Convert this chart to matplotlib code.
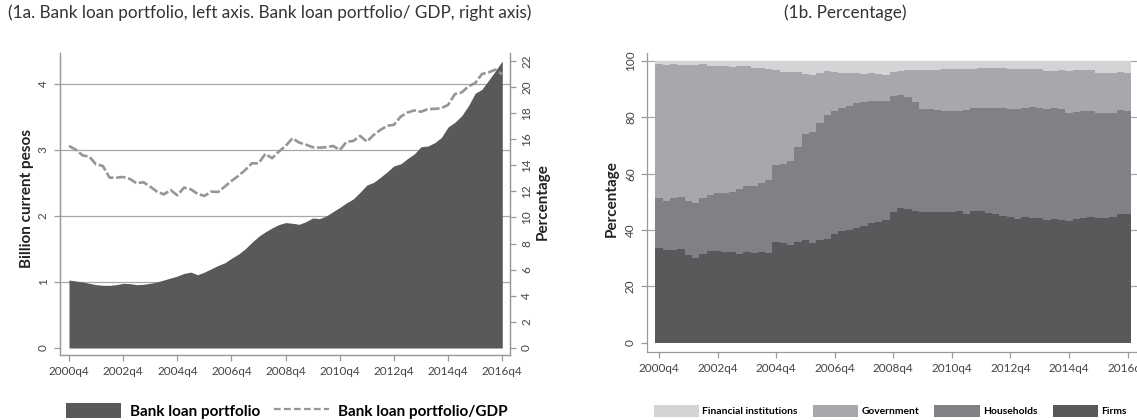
import numpy as np
import matplotlib
matplotlib.use("Agg")
import matplotlib.pyplot as plt
from matplotlib.patches import Patch
from matplotlib.lines import Line2D

plt.rcParams['font.family'] = ['Lato', 'DejaVu Sans']

# quarterly series, 2000q4 .. 2016q4
years = list(range(2000, 2017))
quarter_labels = [f"{y}q4" for y in years[::2]]

# bank loan portfolio (billion current pesos)
loans = [1.03, 1.015, 1.0, 0.98, 0.96, 0.95, 0.95, 0.96, 0.98, 0.975,
         0.96, 0.965, 0.98, 1.0, 1.03, 1.06, 1.09, 1.13, 1.15, 1.11,
         1.15, 1.2, 1.25, 1.29, 1.36, 1.42, 1.50, 1.60, 1.69, 1.76,
         1.82, 1.87, 1.90, 1.89, 1.874, 1.915, 1.97, 1.96, 2.0, 2.066,
         2.13, 2.2, 2.26, 2.36, 2.47, 2.51, 2.586, 2.67, 2.76, 2.79,
         2.87, 2.94, 3.05, 3.06, 3.11, 3.19, 3.35, 3.42, 3.52, 3.67,
         3.86, 3.92, 4.06, 4.2, 4.35]

# bank loan portfolio / GDP (percent)
loans_gdp = [15.48, 15.2, 14.76, 14.66, 14.07, 13.95, 13.05, 13.05, 13.1, 12.95,
             12.62, 12.7, 12.36, 11.98, 11.77, 12.1, 11.7, 12.29, 12.16, 11.8,
             11.65, 11.98, 11.95, 12.36, 12.8, 13.18, 13.62, 14.15, 14.15, 14.87,
             14.54, 15.05, 15.48, 16.07, 15.74, 15.58, 15.38, 15.35, 15.38, 15.48,
             15.17, 15.79, 15.86, 16.25, 15.81, 16.32, 16.71, 17.02, 17.1, 17.73,
             18.04, 18.2, 18.1, 18.3, 18.32, 18.37, 18.63, 19.45, 19.58, 20.04,
             20.3, 20.99, 21.12, 21.33, 20.97]

# portfolio composition (percent)
firms = [33.6, 32.8, 33.0, 33.3, 31.1, 30.2, 31.4, 32.4, 32.6, 32.2,
         32.2, 31.6, 32.2, 31.9, 32.2, 31.9, 35.8, 35.3, 34.7, 35.9,
         36.5, 35.5, 36.5, 37.0, 38.6, 39.7, 39.9, 40.9, 41.3, 42.4,
         42.7, 43.6, 46.5, 47.8, 47.5, 46.8, 46.4, 46.4, 46.4, 46.4,
         46.4, 46.8, 45.7, 46.8, 46.8, 46.1, 45.7, 45.0, 44.6, 43.9,
         44.6, 44.3, 44.3, 43.6, 43.9, 43.6, 43.2, 43.9, 44.3, 44.6,
         44.3, 44.3, 44.6, 45.7, 45.7]
households = [17.8, 17.5, 18.3, 18.4, 19.3, 19.4, 20.0, 19.9, 20.5, 20.9,
              21.4, 22.9, 23.3, 23.6, 24.6, 25.8, 27.2, 28.1, 29.7, 33.5,
              37.5, 39.3, 41.4, 43.9, 43.7, 43.5, 44.2, 44.1, 44.1, 43.3,
              43.1, 42.2, 41.0, 40.2, 39.8, 38.7, 36.6, 36.5, 36.3, 35.9,
              35.9, 35.5, 37.0, 36.4, 36.4, 37.1, 37.5, 38.2, 38.3, 39.0,
              38.8, 39.4, 39.1, 39.4, 39.3, 39.3, 38.4, 38.0, 38.0, 37.7,
              37.3, 37.3, 37.0, 37.0, 36.6]
government = [47.7, 48.5, 47.7, 47.1, 48.4, 49.2, 47.6, 46.1, 45.2, 45.0,
              44.2, 43.6, 42.6, 42.2, 40.8, 39.6, 33.9, 32.8, 31.8, 26.6,
              21.3, 20.2, 17.8, 15.5, 13.9, 12.5, 11.6, 10.7, 10.1, 10.0,
              9.7, 9.4, 8.8, 8.5, 9.4, 11.2, 13.7, 13.8, 14.0, 14.8,
              14.8, 14.8, 14.5, 14.0, 14.4, 14.4, 14.4, 14.4, 14.3, 14.3,
              13.8, 13.5, 13.8, 13.5, 13.3, 14.0, 14.9, 15.0, 14.6, 14.6,
              14.2, 14.2, 14.2, 13.5, 13.5]
financial = [0.9, 1.2, 1.0, 1.2, 1.2, 1.2, 1.0, 1.6, 1.7, 1.9,
             2.2, 1.9, 1.9, 2.3, 2.4, 2.7, 3.1, 3.8, 3.8, 4.0,
             4.7, 5.0, 4.3, 3.6, 3.8, 4.3, 4.3, 4.3, 4.5, 4.3,
             4.5, 4.8, 3.7, 3.5, 3.3, 3.3, 3.3, 3.3, 3.3, 2.9,
             2.9, 2.9, 2.8, 2.8, 2.4, 2.4, 2.4, 2.4, 2.8, 2.8,
             2.8, 2.8, 2.8, 3.5, 3.5, 3.1, 3.5, 3.1, 3.1, 3.1,
             4.2, 4.2, 4.2, 3.8, 4.2]

sectors = ["Financial institutions", "Government", "Households", "Firms"]

DARK = '#58595b'
HH = '#808185'
GOV = '#a7a8ab'
FIN = '#d3d4d6'
LINE = '#969696'
AXC = '#9a9a9a'
GRID = '#a8a8a8'
TXT = '#444444'

W, H = 1137, 420
fig = plt.figure(figsize=(W / 100, H / 100), dpi=100)

q = np.arange(len(loans))
xt = q[::8]


def style_axis(ax):
    for s in ax.spines.values():
        s.set_color(AXC)
        s.set_linewidth(0.9)
    ax.tick_params(colors=AXC, labelcolor=TXT, width=0.9, length=4.5, labelsize=8.5)
    ax.set_xticks(xt)
    ax.set_xticklabels(quarter_labels)


def rotate_yticks(ax):
    for t in ax.get_yticklabels():
        t.set_rotation(90)
        t.set_va('center')


# ---- 1a: loan portfolio (area) and loans/GDP (dashed, right axis)
ax1 = fig.add_axes([60 / W, 1 - 355 / H, 450 / W, 302 / H])
style_axis(ax1)
ax1.spines['top'].set_visible(False)
ax1.fill_between(q, loans, 0, color=DARK, lw=0, zorder=3)
for v in [1, 2, 3, 4]:
    ax1.axhline(v, color=GRID, lw=0.9, zorder=1)
ax1.set_xlim(-1.33, 65.14)
ax1.set_ylim(-0.106, 4.47)
ax1.set_yticks([0, 1, 2, 3, 4])
rotate_yticks(ax1)

ax1r = ax1.twinx()
style_axis(ax1r)
ax1r.spines['top'].set_visible(False)
ax1r.plot(q, loans_gdp, color=LINE, lw=1.9, dashes=(3.6, 1.0), zorder=4)
ax1r.set_ylim(-0.536, 22.6)
ax1r.set_yticks(np.arange(0, 23, 2))
rotate_yticks(ax1r)

fig.text(27 / W, 1 - 198 / H, "Billion current pesos", rotation=90, ha='center',
         va='center', fontsize=11, fontweight='bold', color='#222222')
fig.text(543 / W, 1 - 202 / H, "Percentage", rotation=90, ha='center',
         va='center', fontsize=11, fontweight='bold', color='#222222')
fig.text(8 / W, 1 - 13 / H,
         "(1a. Bank loan portfolio, left axis. Bank loan portfolio/ GDP, right axis)",
         ha='left', va='center', fontsize=12.3, color='#333333')

fig.legend(handles=[Patch(facecolor=DARK, edgecolor='none'),
                    Line2D([], [], color=LINE, lw=1.6, dashes=(3, 1.5))],
           labels=["Bank loan portfolio", "Bank loan portfolio/GDP"],
           loc='center', bbox_to_anchor=(287 / W, 1 - 411 / H), ncol=2,
           frameon=False, handlelength=3.6, handleheight=1.1, handletextpad=0.6,
           columnspacing=0.9, prop={'weight': 'bold', 'size': 11})

# ---- 1b: composition by sector, one step per quarter
ax2 = fig.add_axes([647 / W, 1 - 352 / H, 493 / W, 299.3 / H])
style_axis(ax2)
ax2.spines['top'].set_visible(False)
ax2.spines['right'].set_visible(False)
edges = np.append(q, q[-1] + 1) - 0.5
bottom = np.zeros(len(q))
for vals, col in [(firms, DARK), (households, HH), (government, GOV), (financial, FIN)]:
    top = bottom + np.array(vals)
    ax2.fill_between(edges, np.append(bottom, bottom[-1]), np.append(top, top[-1]),
                     step='post', color=col, lw=0, zorder=3)
    bottom = top
for v in [20, 40, 60, 80, 100]:
    ax2.axhline(v, color=GRID, lw=0.9, zorder=1)
ax2.set_xlim(-1.64, 65.7)
ax2.set_ylim(-3.3, 103.0)
ax2.set_yticks([0, 20, 40, 60, 80, 100])
rotate_yticks(ax2)

fig.text(612 / W, 1 - 199 / H, "Percentage", rotation=90, ha='center',
         va='center', fontsize=11, fontweight='bold', color='#222222')
fig.text(845 / W, 1 - 13 / H, "(1b. Percentage)", ha='center', va='center',
         fontsize=12.3, color='#333333')

fig.legend(handles=[Patch(facecolor=c, edgecolor='none') for c in [FIN, GOV, HH, DARK]],
           labels=sectors, loc='center', bbox_to_anchor=(890 / W, 1 - 411 / H),
           ncol=4, frameon=False, handlelength=4.4, handleheight=1.45,
           handletextpad=0.3, columnspacing=1.5,
           prop={'weight': 'bold', 'size': 7.4})

fig.savefig("out.png", dpi=100)
